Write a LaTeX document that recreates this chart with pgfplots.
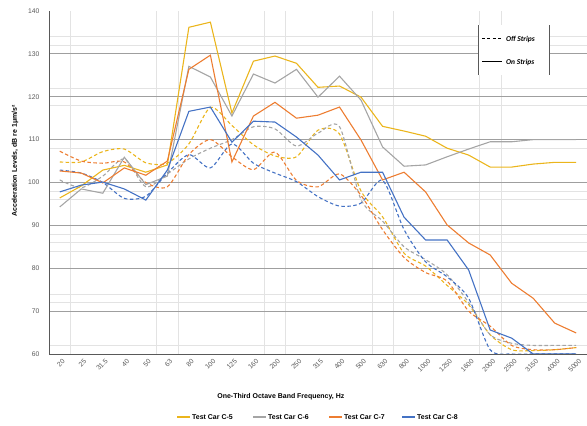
\documentclass[border=0pt]{standalone}
\usepackage{pgfplots}
\pgfplotsset{compat=1.18}
\usepackage{pgfplotstable}
\usepackage{fontspec}
\setmainfont{Liberation Sans}
\newfontfamily\calib{Carlito}
\definecolor{cfive}{HTML}{EBB51C}
\definecolor{csix}{HTML}{A5A5A5}
\definecolor{cseven}{HTML}{ED7D31}
\definecolor{ceight}{HTML}{4472C4}
\definecolor{tickgray}{HTML}{595959}
\pgfplotstableread{
i C5 C6 C7 C8 D5 D6 D7 D8
0 96.4 94.3 102.7 97.8 104.8 100.6 107.3 102.9
1 99.2 98.5 102.2 99.4 104.8 98.8 105.0 102.2
2 102.9 97.5 99.9 100.1 107.2 101.5 104.5 100.0
3 104.0 105.9 103.4 98.5 107.8 105.5 104.8 96.3
4 102.4 99.5 101.7 95.9 104.6 99.0 100.0 96.8
5 104.1 101.5 105.0 102.9 104.5 102.0 99.0 102.2
6 136.2 127.1 126.4 116.6 109.0 105.5 106.5 106.5
7 137.4 124.6 129.7 117.6 117.5 108.0 110.0 103.4
8 116.2 115.5 104.8 109.4 113.3 110.0 106.0 109.0
9 128.3 125.3 115.5 114.3 108.8 113.0 103.0 104.5
10 129.5 123.2 118.7 114.1 106.2 112.5 107.1 102.2
11 127.8 126.4 115.0 110.6 106.0 108.5 100.5 100.2
12 122.2 119.9 115.7 106.4 112.2 111.5 99.0 96.7
13 122.5 124.8 117.6 100.6 111.3 113.0 102.0 94.5
14 119.9 119.2 109.9 102.4 98.0 96.0 97.0 95.2
15 113.1 108.3 100.6 102.4 92.0 91.0 89.0 100.5
16 112.0 103.8 102.4 91.9 83.5 85.0 82.5 89.0
17 110.8 104.1 97.8 86.6 80.5 82.0 79.0 81.5
18 108.0 106.0 90.1 86.6 76.0 78.5 77.0 78.0
19 106.4 107.8 85.9 79.6 71.5 72.0 70.0 73.0
20 103.6 109.5 83.1 65.6 64.5 64.5 66.5 61.0
21 103.6 109.5 76.5 63.7 61.0 62.5 62.0 60.0
22 104.3 110.0 73.0 60.0 60.8 62.0 61.0 60.0
23 104.7 110.0 67.2 60.0 61.0 62.0 61.0 60.0
24 104.7 110.0 64.9 60.0 61.5 62.0 61.5 60.0
}\datatab
\begin{document}
\begin{tikzpicture}
\useasboundingbox (0,0) rectangle (587bp,426bp);
\begin{axis}[
  at={(49bp,72bp)}, anchor=south west,
  scale only axis, width=538bp, height=343bp,
  xmin=-0.5, xmax=24.5, ymin=60, ymax=140,
  axis lines*=left,
  axis line style={draw=tickgray, line width=0.8pt},
  xtick={0,...,24},
  xticklabels={20,25,31.5,40,50,63,80,100,125,160,200,250,315,400,500,630,800,1000,1250,1600,2000,2500,3150,4000,5000},
  ytick={60,70,...,130},
  extra y ticks={140}, extra y tick style={grid=none},
  major tick length=0pt, minor tick length=0pt,
  ymajorgrids=true,
  major grid style={draw=gray!75, line width=0.8pt},
  minor ytick={62,72,74,84,86,88,96,98,108,118,122,132,134},
  minor xtick={0.5,4.5,5.5,9.5,10.5,14.5,15.5,19.5,20.5},
  xminorgrids=true, yminorgrids=true,
  minor grid style={draw=gray!22, line width=0.6pt},
  /pgf/number format/assume math mode=true,
  ticklabel style={font=\fontsize{6.8}{7}\selectfont, text=tickgray},
  yticklabel style={xshift=-6bp},
  xticklabel style={rotate=45, anchor=east, yshift=-7bp, xshift=2bp},
  xlabel={One-Third Octave Band Frequency, Hz},
  xlabel style={at={(axis description cs:0.431,-0.125)}, anchor=center, font=\fontsize{7}{8}\selectfont\bfseries},
  ylabel={Acceleration Levels, dB re 1μm/s²},
  ylabel style={at={(axis description cs:-0.063,0.563)}, anchor=center, font=\fontsize{7}{8}\selectfont\bfseries},
]
\addplot[cfive, line width=1.1pt, dash pattern=on 3.5pt off 2.5pt, smooth, tension=0.45] table[x=i, y=D5] {\datatab};
\addplot[csix, line width=1.1pt, dash pattern=on 3.5pt off 2.5pt, smooth, tension=0.45] table[x=i, y=D6] {\datatab};
\addplot[cseven, line width=1.1pt, dash pattern=on 3.5pt off 2.5pt, smooth, tension=0.45] table[x=i, y=D7] {\datatab};
\addplot[ceight, line width=1.1pt, dash pattern=on 3.5pt off 2.5pt, smooth, tension=0.45] table[x=i, y=D8] {\datatab};
\addplot[cfive, line width=1.1pt, no marks] table[x=i, y=C5] {\datatab};
\addplot[csix, line width=1.1pt, no marks] table[x=i, y=C6] {\datatab};
\addplot[cseven, line width=1.1pt, no marks] table[x=i, y=C7] {\datatab};
\addplot[ceight, line width=1.1pt, no marks] table[x=i, y=C8] {\datatab};
\end{axis}
% series legend (bottom)
\begin{scope}[every node/.style={anchor=west, inner sep=0pt, font=\fontsize{7}{8}\selectfont\bfseries}]
\draw[cfive, line width=1.1pt] (177bp,9bp) -- (190bp,9bp);
\node at (192bp,9bp) {Test Car C-5};
\draw[csix, line width=1.1pt] (253bp,9bp) -- (266bp,9bp);
\node at (268bp,9bp) {Test Car C-6};
\draw[cseven, line width=1.1pt] (329bp,9bp) -- (342bp,9bp);
\node at (344bp,9bp) {Test Car C-7};
\draw[ceight, line width=1.1pt] (402bp,9bp) -- (415bp,9bp);
\node at (417bp,9bp) {Test Car C-8};
\end{scope}
% style legend (top right)
\fill[white] (478bp,351bp) rectangle (549bp,401bp);
\draw[tickgray, line width=0.8pt] (478bp,351bp) -- (478bp,401bp);
\draw[tickgray, line width=0.8pt] (549bp,351bp) -- (549bp,401bp);
\draw[black, line width=1pt, dash pattern=on 3pt off 2.5pt] (482bp,387bp) -- (502bp,387bp);
\draw[black, line width=1pt] (482bp,364bp) -- (502bp,364bp);
\node[anchor=west, inner sep=0pt, font=\calib\fontsize{7.5}{8}\selectfont\itshape\bfseries] at (506bp,387bp) {Off Strips};
\node[anchor=west, inner sep=0pt, font=\calib\fontsize{7.5}{8}\selectfont\itshape\bfseries] at (506bp,364bp) {On Strips};
\end{tikzpicture}
\end{document}
